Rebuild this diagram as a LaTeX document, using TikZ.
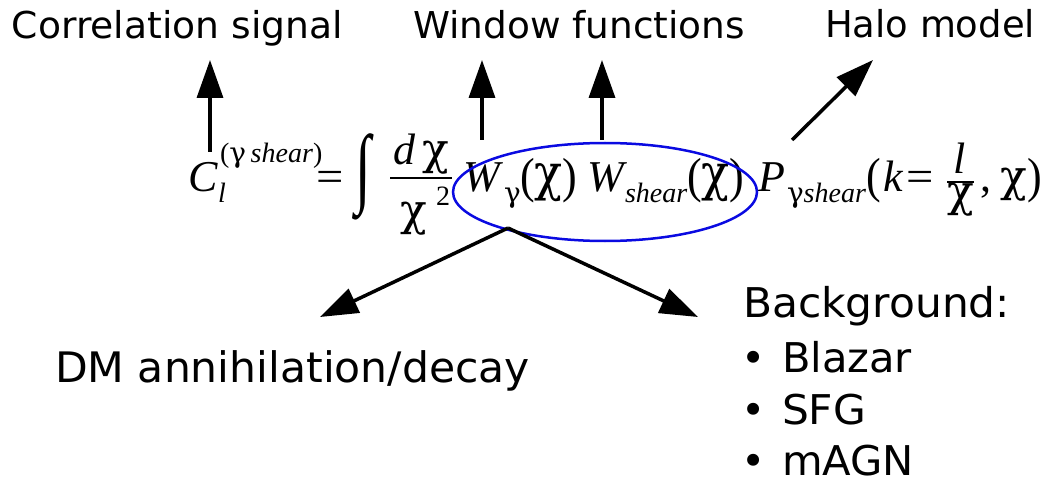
\documentclass[tikz,border=0pt]{standalone}
\usepackage{fontspec}
\usepackage{graphicx}
\setmainfont{DejaVu Sans}
\newfontfamily\eqf{Liberation Serif}
\newfontfamily\grf{DejaVu Serif}
\usetikzlibrary{arrows.meta,shapes.geometric}
\newcommand{\lbl}[3]{\resizebox{#1pt}{\height}{\fontsize{#2}{#2}\selectfont #3}}
\newcommand{\eqbig}{\eqf\fontsize{44}{44}\selectfont}
\newcommand{\eqsm}{\eqf\fontsize{28}{28}\selectfont}
\newcommand{\ch}{\raisebox{1pt}{\scalebox{1.05}[1.15]{\grf χ}}}
\newcommand{\chs}{{\grf χ}}
\newcommand{\gm}{{\grf γ}}
\newcommand{\lpar}{\raisebox{-1pt}{\scalebox{1}[1.12]{(}}}
\newcommand{\rpar}{\raisebox{-1pt}{\scalebox{1}[1.12]{)}}}
\definecolor{eblue}{RGB}{10,10,225}
\begin{document}
\begin{tikzpicture}[x=1pt,y=-1pt,
  every node/.style={inner sep=0pt, outer sep=0pt, anchor=base west},
  arr/.style={line width=3.5pt, -{Triangle[length=38pt,width=26pt]}},
  bar/.style={line width=2pt}]
\useasboundingbox (0,0) rectangle (1043,481);
% labels
\node (corr) at (12,39) {\lbl{331}{37}{Correlation signal}};
\node (win) at (413,39) {\lbl{332}{37}{Window functions}};
\node (halo) at (825,38) {\lbl{210}{37}{Halo model}};
\node (dm) at (55,382) {\lbl{475}{42}{DM annihilation/decay}};
\node (bg) at (743,317) {\lbl{267}{41}{Background:}};
\node (b1) at (741,372) {\fontsize{41}{41}\selectfont •};
\node (b2) at (741,424) {\fontsize{41}{41}\selectfont •};
\node (b3) at (741,475) {\fontsize{41}{41}\selectfont •};
\node (blazar) at (782,372) {\lbl{130}{41}{Blazar}};
\node (sfg) at (782,424) {\lbl{84}{41}{SFG}};
\node (magn) at (782,475) {\lbl{132}{41}{mAGN}};
% equation
\node (C) at (188,192) {\eqbig\itshape C};
\node (Csup) at (220,163) {\eqsm (\gm\,\itshape shear\/\upshape)};
\node (Csub) at (218,202) {\eqsm\itshape l};
\node (eq1) at (316,192) {\scalebox{1.1}[1]{\eqbig =}};
\node[anchor=center] (int) at (363,177) {\scalebox{1.3}[2.0]{\eqbig ∫}};
\node (num) at (393,165) {\eqbig\itshape d\,\upshape\chs};
\coordinate (f1a) at (390,178);
\coordinate (f1b) at (452,178);
\draw[bar] (f1a) -- (f1b);
\node (den) at (400,225) {\eqbig\chs};
\node (den2) at (436,205) {\eqsm 2};
\node (W1) at (463,192) {\eqbig\itshape W};
\node (W1s) at (504,202) {\eqsm\gm};
\node (W1a) at (520,192) {\eqbig \lpar\ch\rpar};
\node (W2) at (587,192) {\eqbig\itshape W};
\node (W2s) at (625,202) {\eqsm\itshape shear};
\node (W2a) at (687,192) {\eqbig \lpar\ch\rpar};
\node (P) at (758,192) {\eqbig\itshape P};
\node (Ps) at (787,202) {\eqsm\gm\itshape shear};
\node (lp) at (866,192) {\eqbig \lpar};
\node (k) at (883,192) {\eqbig\itshape k};
\node (eq2) at (906,192) {\scalebox{1.1}[1]{\eqbig =}};
\node[anchor=base] (lnum) at (960,174) {\eqbig\itshape l};
\coordinate (f2a) at (947,182);
\coordinate (f2b) at (974,182);
\draw[bar] (f2a) -- (f2b);
\node[anchor=base] (lden) at (961,206) {\eqbig\chs};
\node (comma) at (980,192) {\eqbig ,};
\node (chi) at (1000,192) {\eqbig\chs};
\node (rp) at (1027,192) {\eqbig \rpar};
% ellipse
\node[draw=eblue, line width=2.5pt, ellipse, minimum width=304pt, minimum height=98pt, anchor=center] (ell) at (605,192) {};
% arrows
\coordinate (a1s) at (210,152); \coordinate (a1e) at (210,60);
\coordinate (a2s) at (482,140); \coordinate (a2e) at (482,60);
\coordinate (a3s) at (602,140); \coordinate (a3e) at (602,60);
\coordinate (a4s) at (792,140); \coordinate (a4e) at (873,60);
\coordinate (a5s) at (508,228); \coordinate (a5e) at (320,317);
\coordinate (a6e) at (698,317);
\draw[arr] (a1s) -- (a1e);
\draw[arr] (a2s) -- (a2e);
\draw[arr] (a3s) -- (a3e);
\draw[arr] (a4s) -- (a4e);
\draw[arr] (a5s) -- (a5e);
\draw[arr] (a5s) -- (a6e);
\end{tikzpicture}
\end{document}
